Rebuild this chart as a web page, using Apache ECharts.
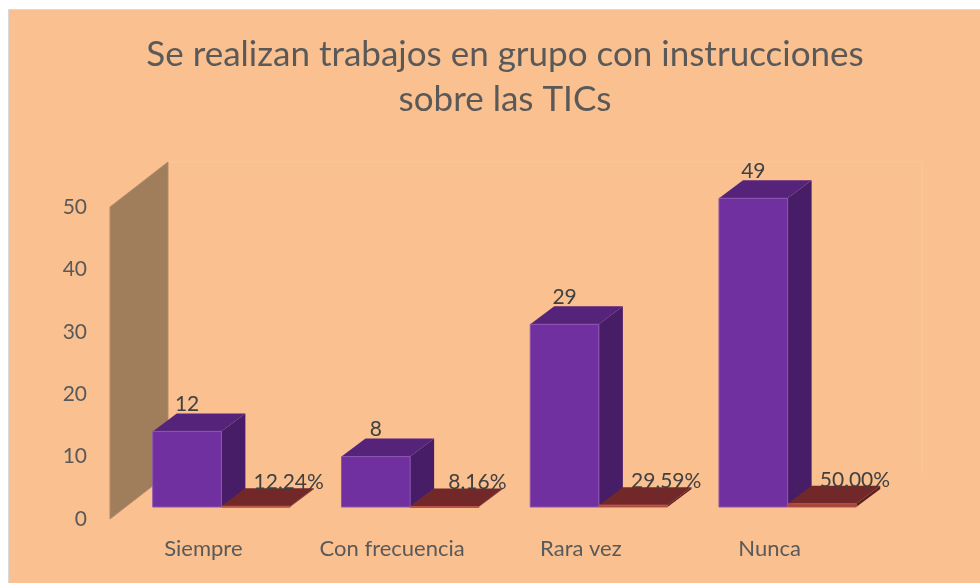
<!DOCTYPE html>
<html style="height: 100%">
<head>
    <meta charset="utf-8">
    <title>ECharts</title>
    <script src="https://cdn.jsdelivr.net/npm/echarts/dist/echarts.min.js"></script>
</head>
<body style="height: 100%; margin: 0">
    <div id="main" style="width: 980px; height: 583px"></div>
    <script type="text/javascript">
        // 数据
        var categories = ['Siempre', 'Con frecuencia', 'Rara vez', 'Nunca'];
        var counts = [12, 8, 29, 49];
        var percents = [12.24, 8.16, 29.59, 50.00];
        var yTicks = [0, 10, 20, 30, 40, 50];

        var myChart = echarts.init(document.getElementById('main'));

        // 3D 偏移（像素）
        var DX = 24, DY = -18;
        var WALL_DX = 58, WALL_DY = -45;
        var FONT = 'Lato, "Open Sans", sans-serif';

        function box(x0, x1, yTop, yBase, colors, text, tx, ty) {
            var children = [
                {
                    type: 'polygon',
                    shape: { points: [[x1, yTop], [x1 + DX, yTop + DY], [x1 + DX, yBase + DY], [x1, yBase]] },
                    style: { fill: colors.side }
                },
                {
                    type: 'polygon',
                    shape: { points: [[x0, yTop], [x0 + DX, yTop + DY], [x1 + DX, yTop + DY], [x1, yTop]] },
                    style: { fill: colors.top }
                },
                {
                    type: 'rect',
                    shape: { x: x0, y: yTop, width: x1 - x0, height: Math.max(yBase - yTop, 1) },
                    style: { fill: colors.front, stroke: colors.edge, lineWidth: 1 }
                },
                {
                    type: 'text',
                    style: {
                        text: text, x: tx, y: ty, align: 'center', verticalAlign: 'middle',
                        fill: '#404040', font: '21px ' + FONT
                    }
                }
            ];
            return { type: 'group', children: children };
        }

        var purple = { front: '#7030A0', top: '#55247A', side: '#481D67', edge: '#8A55B0' };
        var red = { front: '#A8433B', top: '#722828', side: '#5C1F1F', edge: '#B8564C' };

        var option = {
            backgroundColor: '#ffffff',
            animation: false,
            graphic: [
                {
                    type: 'rect', z: -10,
                    shape: { x: 8.5, y: 9.5, width: 980, height: 580 },
                    style: { fill: '#FAC090', stroke: '#D9D9D9', lineWidth: 1 }
                }
            ],
            title: {
                text: 'Se realizan trabajos en grupo con instrucciones\nsobre las TICs',
                left: 500, top: 27, textAlign: 'center',
                textStyle: { color: '#595959', fontSize: 35, fontWeight: 'normal', fontFamily: FONT, lineHeight: 45 }
            },
            grid: [
                { left: 110, top: 207, width: 812, height: 312 },
                { left: 127, top: 192, width: 755, height: 315 },
                { left: 109, top: 192, width: 755, height: 315 }
            ],
            xAxis: [
                { gridIndex: 0, type: 'value', min: 0, max: 1, show: false },
                { gridIndex: 1, type: 'category', data: categories, show: false },
                {
                    gridIndex: 2, type: 'category', data: categories,
                    axisLine: { show: false }, axisTick: { show: false },
                    axisLabel: { margin: 31, color: '#595959', fontSize: 22, fontFamily: FONT }
                }
            ],
            yAxis: [
                {
                    gridIndex: 0, type: 'value', min: 0, max: 50, interval: 10,
                    axisLine: { show: false }, axisTick: { show: false }, splitLine: { show: false },
                    axisLabel: { margin: 23, color: '#595959', fontSize: 21, fontFamily: FONT }
                },
                { gridIndex: 1, type: 'value', min: 0, max: 50, show: false, splitLine: { show: false } },
                { gridIndex: 2, type: 'value', min: 0, max: 50, show: false, splitLine: { show: false } }
            ],
            series: [
                {
                    // 左侧墙和背景墙轮廓
                    type: 'custom', xAxisIndex: 0, yAxisIndex: 0, z: 1,
                    data: [[0, 50]],
                    renderItem: function (params, api) {
                        var top = api.coord([0, 50]);
                        var bot = api.coord([0, 0]);
                        var right = api.coord([1, 0]);
                        return {
                            type: 'group',
                            children: [
                                {
                                    type: 'polyline',
                                    shape: { points: [[bot[0] + WALL_DX, bot[1] + WALL_DY], [top[0] + WALL_DX, top[1] + WALL_DY], [right[0], top[1] + WALL_DY], [right[0], bot[1] + WALL_DY]] },
                                    style: { stroke: '#FBC796', lineWidth: 1, fill: null }
                                },
                                {
                                    type: 'polygon',
                                    shape: { points: [[bot[0], bot[1]], [top[0], top[1]], [top[0] + WALL_DX, top[1] + WALL_DY], [bot[0] + WALL_DX, bot[1] + WALL_DY]] },
                                    style: { fill: '#A07D5B', stroke: '#B08B68', lineWidth: 1 }
                                }
                            ]
                        };
                    }
                },
                {
                    name: 'Frecuencia', type: 'custom', xAxisIndex: 1, yAxisIndex: 1, z: 3,
                    data: counts.map(function (v, i) { return [i, v]; }),
                    renderItem: function (params, api) {
                        var base = api.coord([api.value(0), 0]);
                        var topPt = api.coord([api.value(0), api.value(1)]);
                        var bw = api.size([1, 0])[0] * 0.3636;
                        var x0 = base[0] - bw, x1 = base[0];
                        return box(x0, x1, topPt[1], base[1], purple, String(api.value(1)),
                            (x0 + x1) / 2, topPt[1] + DY - 9);
                    }
                },
                {
                    name: 'Porcentaje', type: 'custom', xAxisIndex: 1, yAxisIndex: 1, z: 3,
                    data: percents.map(function (v, i) { return [i, v / 100]; }),
                    renderItem: function (params, api) {
                        var base = api.coord([api.value(0), 0]);
                        var topPt = api.coord([api.value(0), api.value(1)]);
                        var bw = api.size([1, 0])[0] * 0.3636;
                        var x0 = base[0], x1 = base[0] + bw;
                        var txt = percents[api.value(0)].toFixed(2).replace('.', ',') + '%';
                        return box(x0, x1, topPt[1], base[1], red, txt,
                            (x0 + x1) / 2 + 33, topPt[1] - 24);
                    }
                }
            ]
        };

        myChart.setOption(option);
    </script>
</body>
</html>
